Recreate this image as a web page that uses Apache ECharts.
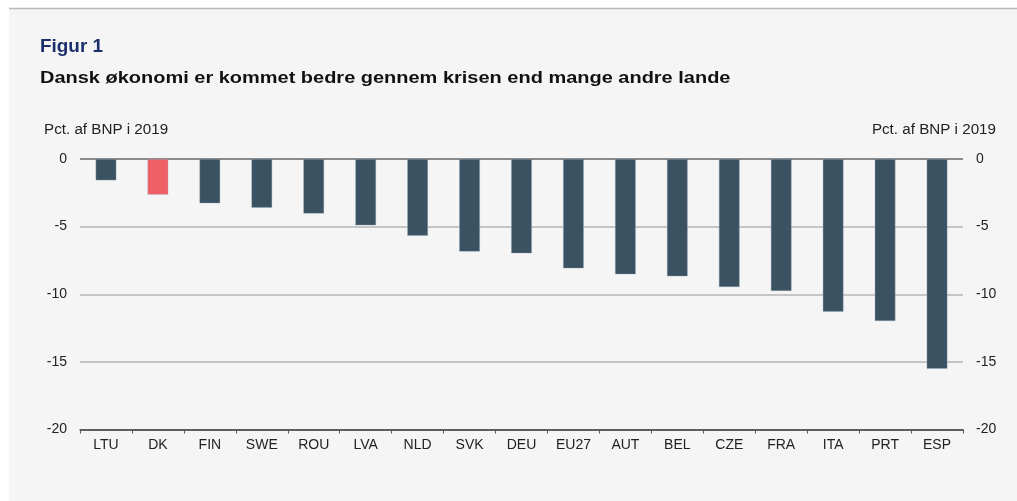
<!DOCTYPE html>
<html><head><meta charset="utf-8">
<script src="https://cdn.jsdelivr.net/npm/echarts@6/dist/echarts.min.js"></script>
<style>
html,body{margin:0;padding:0;background:#fff;}
#c{width:1017px;height:501px;}
</style></head>
<body><div id="c"></div>
<script>
const categories = ['LTU','DK','FIN','SWE','ROU','LVA','NLD','SVK','DEU','EU27','AUT','BEL','CZE','FRA','ITA','PRT','ESP'];
const values = [-1.58,-2.64,-3.28,-3.6,-4.04,-4.91,-5.67,-6.85,-6.98,-8.09,-8.53,-8.68,-9.47,-9.76,-11.29,-11.98,-15.51];
const highlight = 'DK';
const yTicks = [-20,-15,-10,-5,0];

const chart = echarts.init(document.getElementById('c'), null, {renderer:'canvas'});
const font = 'Arial, "Liberation Sans", sans-serif';
chart.setOption({
  animation:false,
  backgroundColor:'#ffffff',
  graphic:[
    {type:'rect', shape:{x:9,y:8,width:1008,height:493}, style:{fill:'#f5f5f5'}, z:-10},
    {type:'line', shape:{x1:9,y1:8.5,x2:1017,y2:8.5}, style:{stroke:'#b8b8b8',lineWidth:1.5}, z:-9},
    {type:'text', x:40, y:38, scaleX:1.05, style:{text:'Figur 1', font:'bold 18px '+font, fill:'#1b2f6b'}},
    {type:'text', x:40, y:70, scaleX:1.175, style:{text:'Dansk økonomi er kommet bedre gennem krisen end mange andre lande', font:'bold 17px '+font, fill:'#111111'}},
    {type:'text', x:44, y:123, scaleX:1.085, style:{text:'Pct. af BNP i 2019', font:'14px '+font, fill:'#222222'}},
    {type:'text', x:996, y:123, scaleX:1.085, style:{text:'Pct. af BNP i 2019', font:'14px '+font, fill:'#222222', align:'right'}}
  ],
  grid:{left:80, right:54, top:159, bottom:71.5, containLabel:false},
  xAxis:{
    type:'category', data:categories,
    axisLine:{onZero:false, lineStyle:{color:'#555555', width:1.5}},
    axisTick:{show:true, length:4, lineStyle:{color:'#555555'}},
    axisLabel:{color:'#222222', fontSize:14, fontFamily:font, margin:9}
  },
  yAxis:[
    {type:'value', min:-20, max:0, interval:5,
     axisLine:{show:false}, axisTick:{show:false},
     axisLabel:{color:'#222222', fontSize:14, fontFamily:font, margin:13},
     splitLine:{show:true, lineStyle:{color:['#555555','#b4b4b4','#b4b4b4','#b4b4b4','#666666'], width:1.5}}},
    {type:'value', min:-20, max:0, interval:5, position:'right',
     axisLine:{show:false}, axisTick:{show:false},
     axisLabel:{color:'#222222', fontSize:14, fontFamily:font, margin:13},
     splitLine:{show:false}}
  ],
  series:[{
    type:'bar', yAxisIndex:0,
    data: values.map((v,i)=>({value:v, itemStyle:{color: categories[i]===highlight ? '#f05f66' : '#3b5263'}})),
    barWidth:'40%',
    itemStyle:{borderColor:'rgba(150,170,185,0.6)', borderWidth:0.6}
  }]
});
</script></body></html>
